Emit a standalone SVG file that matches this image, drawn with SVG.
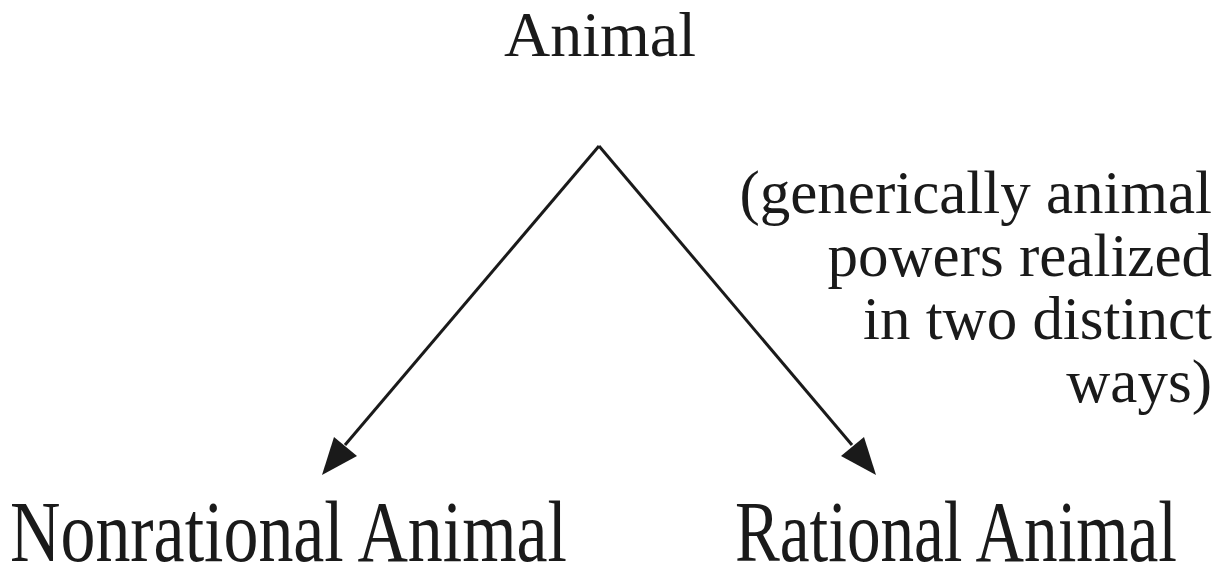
<svg xmlns="http://www.w3.org/2000/svg" width="1226" height="570" viewBox="0 0 1226 570">
<style>
text{font-family:"Liberation Serif","Times New Roman",serif;fill:#1a1a1a}
.t{font-size:64px}
.b{font-size:86px}
.n{font-size:61px;text-anchor:end}
.c{stroke:#1a1a1a;stroke-width:3;fill:none}
</style>
<rect width="1226" height="570" fill="#fff"/>
<g id="animal"><text class="t" x="600" y="56" text-anchor="middle">Animal</text></g>
<g id="nonrational"><text class="b" x="10" y="561" textLength="557" lengthAdjust="spacingAndGlyphs">Nonrational Animal</text></g>
<g id="rational"><text class="b" x="735" y="561" textLength="442" lengthAdjust="spacingAndGlyphs">Rational Animal</text></g>
<g id="note">
<text class="n" x="1212" y="213">(generically animal</text>
<text class="n" x="1212" y="276">powers realized</text>
<text class="n" x="1212" y="339">in two distinct</text>
<text class="n" x="1212" y="402">ways)</text>
</g>
<g id="connectors">
<path class="c" d="M599,146 L345,445"/>
<path class="c" d="M599,146 L852,445"/>
<path d="M322,475 L334,437 L357,456 Z" fill="#1a1a1a"/>
<path d="M876,475 L841,456 L864,437 Z" fill="#1a1a1a"/>
</g>
</svg>
